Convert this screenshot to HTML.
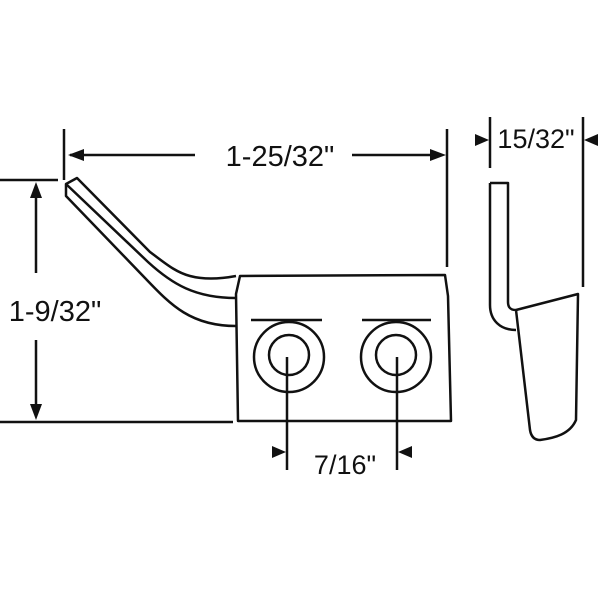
<!DOCTYPE html>
<html><head><style>html,body{margin:0;padding:0;background:#fff}svg{display:block}</style></head>
<body>
<svg width="600" height="600" viewBox="0 0 600 600" xmlns="http://www.w3.org/2000/svg">
<g fill="none" stroke="#111" stroke-width="2.5" stroke-linejoin="round">
<line x1="64" y1="129" x2="64" y2="180"/>
<line x1="447" y1="129" x2="447" y2="267"/>
<line x1="70" y1="155" x2="195" y2="155"/>
<line x1="352" y1="155" x2="440" y2="155"/>
<line x1="0" y1="180" x2="58" y2="180"/>
<line x1="36" y1="186" x2="36" y2="273"/>
<line x1="36" y1="340" x2="36" y2="414"/>
<line x1="0" y1="422" x2="233" y2="422"/>
<path d="M240,276 L445,275 L448,296 L451,421 L238,421 L236,294 Z"/>
<path d="M236,276 C220,279 205,280 190,276 C175,272 165,263 150,252 L77,178 L66,184 L66,196 L145,278 C170,304 190,326 236,326"/>
<path d="M66,184 L148,262 C172,284 195,298 236,298"/>
<line x1="251" y1="320" x2="322" y2="320"/>
<line x1="362" y1="320" x2="431" y2="320"/>
<circle cx="289" cy="357" r="35"/>
<circle cx="289" cy="355" r="20"/>
<circle cx="396" cy="357" r="35"/>
<circle cx="396" cy="355" r="20"/>
<line x1="287" y1="357" x2="287" y2="470"/>
<line x1="397" y1="357" x2="397" y2="470"/>
<line x1="490" y1="117" x2="490" y2="168"/>
<line x1="583" y1="117" x2="583" y2="287"/>
<path d="M490,183 L508,183 L508,302 C508,308 511,310 516,310 L578,294 L576,420 C570,434 555,438 540,440 C534,440 531,436 530,430 L516,310"/>
<path d="M490,183 L490,305 C490,320 500,330 516,330"/>
</g>
<g fill="#111">
<polygon points="68,155 84,149 84,161"/>
<polygon points="446,155 430,149 430,161"/>
<polygon points="36,182 30,198 42,198"/>
<polygon points="36,420 30,404 42,404"/>
<polygon points="286,452 272,446 272,458"/>
<polygon points="398,452 412,446 412,458"/>
<polygon points="489,140 475,134 475,146"/>
<polygon points="584,140 598,134 598,146"/>
</g>
<g font-family="Liberation Sans, sans-serif" fill="#111">
<text x="280" y="166" font-size="29" text-anchor="middle">1-25/32"</text>
<text x="55" y="321" font-size="29" text-anchor="middle">1-9/32"</text>
<text x="345" y="474" font-size="27" text-anchor="middle">7/16"</text>
<text x="536" y="148" font-size="27" text-anchor="middle">15/32"</text>
</g>
</svg>
</body></html>
